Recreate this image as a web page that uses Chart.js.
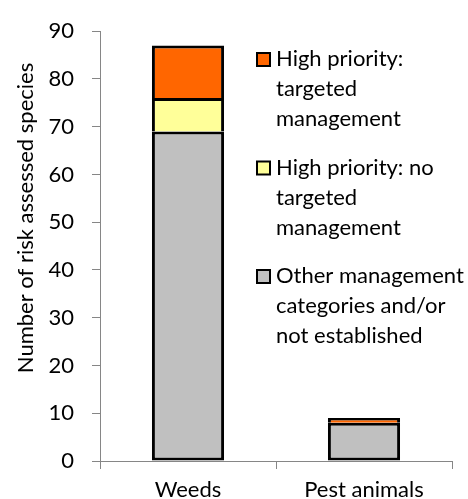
<!DOCTYPE html>
<html>
<head>
<meta charset="utf-8">
<script src="https://cdn.jsdelivr.net/npm/chart.js@4.4.1/dist/chart.umd.min.js"></script>
<style>
  html, body { margin: 0; padding: 0; background: #fff; }
  #wrap { position: relative; width: 468px; height: 499px; }
</style>
</head>
<body>
<div id="wrap"><canvas id="chart" width="468" height="499"></canvas></div>
<script>
// data
const categories = ['Weeds', 'Pest animals'];
const otherMgmt = [69, 8];
const highNoTargeted = [7, 0];
const highTargeted = [11, 1];
const yMin = 0, yMax = 90, yStep = 10;

const labelOther = ['Other management', 'categories and/or', 'not established'];
const labelHighNo = ['High priority: no', 'targeted', 'management'];
const labelHighT = ['High priority:', 'targeted', 'management'];

const FONT = 'Lato';
const FS = 22;
const axisGrey = '#868686';

// legend drawn at right, over the plot area, top item first
const legendPlugin = {
    id: 'sideLegend',
    afterDraw(chart) {
        const ctx = chart.ctx;
        const items = chart.data.datasets.slice().reverse();
        let y = 66;
        ctx.save();
        ctx.font = FS + 'px ' + FONT;
        ctx.textBaseline = 'alphabetic';
        ctx.textAlign = 'left';
        items.forEach(ds => {
            ctx.fillStyle = ds.backgroundColor;
            ctx.fillRect(257, y - 13, 13, 13);
            ctx.strokeStyle = '#000';
            ctx.lineWidth = 2;
            ctx.strokeRect(257, y - 13, 13, 13);
            ctx.fillStyle = '#000';
            ds.lines.forEach((ln, i) => ctx.fillText(ln, 276, y + i * 30));
            y += ds.lines.length * 30 + 18.5;
        });
        ctx.restore();
    }
};

// y axis title, drawn a bit above the plot centre like the original
const yTitlePlugin = {
    id: 'yTitle',
    afterDraw(chart) {
        const ctx = chart.ctx;
        ctx.save();
        ctx.translate(33, 218);
        ctx.rotate(-Math.PI / 2);
        ctx.font = FS + 'px ' + FONT;
        ctx.fillStyle = '#000';
        ctx.textAlign = 'center';
        ctx.textBaseline = 'alphabetic';
        ctx.fillText('Number of risk assessed species', 0, 0);
        ctx.restore();
    }
};

const barCommon = {
    borderColor: '#000',
    borderWidth: 3,
    barPercentage: 0.41,
    categoryPercentage: 1.0
};

new Chart(document.getElementById('chart'), {
    type: 'bar',
    data: {
        labels: categories,
        datasets: [
            { ...barCommon, label: labelOther.join(' '), lines: labelOther, data: otherMgmt, backgroundColor: '#c0c0c0', borderSkipped: false },
            { ...barCommon, label: labelHighNo.join(' '), lines: labelHighNo, data: highNoTargeted, backgroundColor: '#ffff99', borderSkipped: 'bottom' },
            { ...barCommon, label: labelHighT.join(' '), lines: labelHighT, data: highTargeted, backgroundColor: '#ff6600', borderSkipped: 'bottom' }
        ]
    },
    options: {
        responsive: false,
        devicePixelRatio: 1,
        animation: false,
        layout: { padding: { left: 0, top: 25, right: 16, bottom: 0 } },
        plugins: { legend: { display: false }, tooltip: { enabled: false } },
        scales: {
            x: {
                stacked: true,
                afterFit: s => { s.height = 38; },
                grid: { drawOnChartArea: false, drawTicks: true, tickLength: 8, color: axisGrey, offset: true },
                border: { color: axisGrey },
                ticks: { color: '#000', font: { family: FONT, size: FS }, padding: 8 }
            },
            y: {
                stacked: true,
                min: yMin,
                max: yMax,
                afterFit: s => { s.width = 100; },
                grid: { drawOnChartArea: false, drawTicks: true, tickLength: 8, color: axisGrey },
                border: { color: axisGrey },
                ticks: { stepSize: yStep, color: '#000', font: { family: FONT, size: FS }, padding: 18 }
            }
        }
    },
    plugins: [legendPlugin, yTitlePlugin]
});
</script>
</body>
</html>
